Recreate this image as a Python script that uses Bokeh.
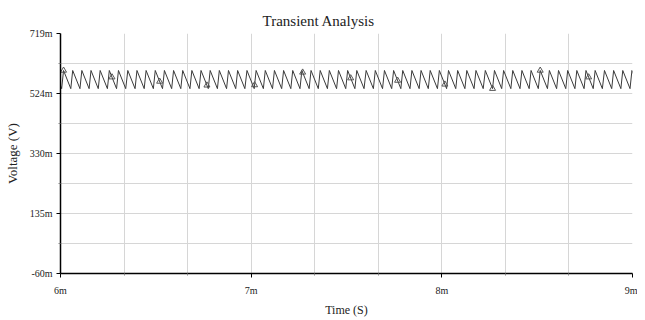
import numpy as np
from bokeh.plotting import figure
from bokeh.models import FixedTicker
from bokeh.embed import file_html
from bokeh.resources import INLINE

# Time axis in ms, voltage in V
peak_times = [5.968, 6.016, 6.064, 6.112, 6.160, 6.208, 6.256, 6.304, 6.353, 6.401, 6.449,
              6.497, 6.545, 6.593, 6.641, 6.689, 6.737, 6.785, 6.833, 6.881, 6.929,
              6.978, 7.026, 7.074, 7.122, 7.170, 7.218, 7.266, 7.314, 7.362, 7.410,
              7.458, 7.506, 7.554, 7.603, 7.651, 7.699, 7.747, 7.795, 7.843, 7.891,
              7.939, 7.987, 8.035, 8.083, 8.131, 8.179, 8.228, 8.276, 8.324, 8.372,
              8.420, 8.468, 8.516, 8.564, 8.612, 8.660, 8.708, 8.756, 8.804, 8.853,
              8.901, 8.949, 8.997]
peak_v = 0.599
valley_v = 0.540
fall_time = 0.038  # ms from peak to valley

marker_times = [6.016, 6.270, 6.520, 6.768, 7.018, 7.270, 7.522, 7.768, 8.016, 8.266, 8.516, 8.770]

x_ticks = [6, 7, 8, 9]
x_labels = ["6m", "7m", "8m", "9m"]
x_minor = [6.3333, 6.6667, 7.3333, 7.6667, 8.3333, 8.6667]
y_ticks = [-0.060, 0.13475, 0.3295, 0.52425, 0.719]
y_labels = ["-60m", "135m", "330m", "524m", "719m"]
y_minor = [0.037375, 0.232125, 0.426875, 0.621625]

xs, ys = [], []
for t in peak_times:
    xs += [t, t + fall_time]
    ys += [peak_v, valley_v]
xs = np.array(xs)
ys = np.array(ys)
mx = np.array(marker_times)
my = np.interp(mx, xs, ys)

FONT = "Times New Roman, Liberation Serif, serif"
p = figure(width=637, height=320, x_range=(6, 9), y_range=(-0.060, 0.719),
           output_backend="svg", toolbar_location=None,
           min_border_left=60, min_border_right=5, min_border_top=33, min_border_bottom=47)
p.outline_line_color = None
p.background_fill_color = "white"

p.title.text = "Transient Analysis"
p.title.align = "left"
p.title.offset = 202
p.title.text_font = FONT
p.title.text_font_size = "15px"
p.title.text_font_style = "normal"
p.title.text_color = "#222222"
p.title.standoff = 10

p.line(xs, ys, line_color="#3a3a3a", line_width=1)
p.scatter(mx, my, marker="triangle", size=6, fill_color=None, line_color="#555555", line_width=1)

p.xaxis.ticker = FixedTicker(ticks=x_ticks, minor_ticks=x_minor)
p.xaxis.major_label_overrides = dict(zip(x_ticks, x_labels))
p.yaxis.ticker = FixedTicker(ticks=y_ticks, minor_ticks=y_minor)
p.yaxis.major_label_overrides = dict(zip(y_ticks, y_labels))

for ax in (p.xaxis, p.yaxis):
    ax.axis_line_color = "black"
    ax.axis_line_width = 1.5
    ax.major_tick_line_color = "black"
    ax.major_tick_out = 4
    ax.major_tick_in = 0
    ax.minor_tick_line_color = "#888888"
    ax.minor_tick_out = 2
    ax.minor_tick_in = 0
    ax.major_label_text_font = FONT
    ax.major_label_text_font_size = "10px"
    ax.major_label_text_color = "#222222"
    ax.axis_label_text_font = FONT
    ax.axis_label_text_font_style = "normal"
    ax.axis_label_text_color = "#222222"

p.xaxis.axis_label_text_font_size = "12px"
p.yaxis.axis_label_text_font_size = "13px"
p.xaxis.axis_label = "Time (S)"
p.yaxis.axis_label = "Voltage (V)"
p.xaxis.major_label_standoff = 7
p.xaxis.axis_label_standoff = 4
p.yaxis.major_label_standoff = 4
p.yaxis.axis_label_standoff = 7

for g in (p.xgrid, p.ygrid):
    g.grid_line_color = "#d6d6d6"
    g.grid_line_width = 1
    g.minor_grid_line_color = "#d6d6d6"
    g.minor_grid_line_width = 1

open("out.html", "w").write(file_html(p, INLINE))
